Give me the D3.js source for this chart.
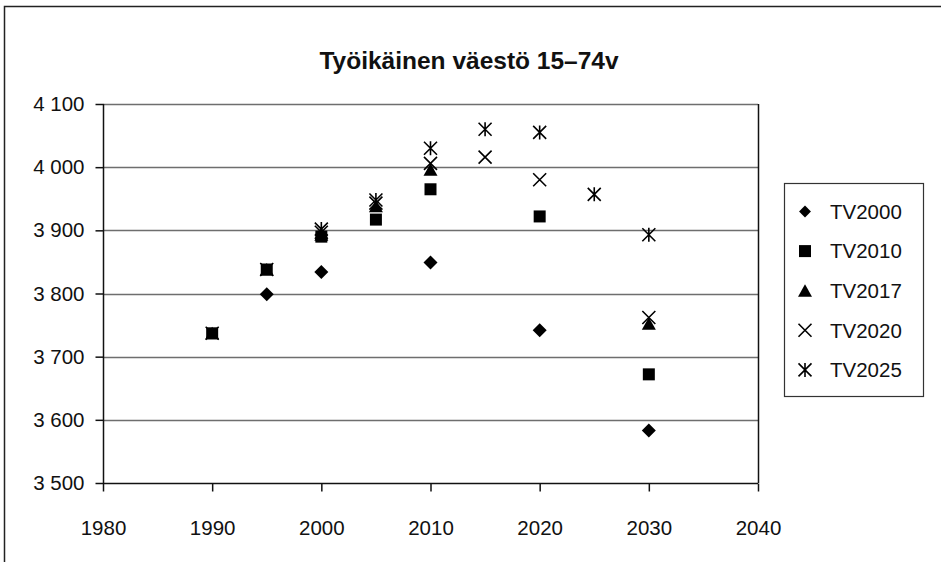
<!DOCTYPE html>
<html lang="fi">
  <head>
    <meta charset="UTF-8" />
    <title>Työikäinen väestö</title>
    <script src="https://cdn.jsdelivr.net/npm/d3@7"></script>
    <style>
      body { margin: 0; background: #fff; }
      text { font-family: "Liberation Sans", Arial, sans-serif; fill: #111; }
    </style>
  </head>
  <body>
    <svg id="chart" width="941" height="562"></svg>
    <script>
      // data (thousands of persons)
      const years = [1990, 1995, 2000, 2005, 2010, 2015, 2020, 2025, 2030];
      const tv2000 = [null, 3799, 3834, null, 3849, null, 3742, null, 3583];
      const tv2010 = [3737, 3838, 3890, 3917, 3965, null, 3922, null, 3672];
      const tv2017 = [3737, 3838, 3893, 3938, 3996, null, null, null, 3752];
      const tv2020 = [3737, 3838, 3897, 3943, 4006, 4016, 3980, null, 3762];
      const tv2025 = [null, null, 3902, 3948, 4030, 4060, 4055, 3957, 3893];
      const seriesNames = ["TV2000", "TV2010", "TV2017", "TV2020", "TV2025"];
      const xTicks = [1980, 1990, 2000, 2010, 2020, 2030, 2040];
      const yTicks = [3500, 3600, 3700, 3800, 3900, 4000, 4100];
      const title = "Työikäinen väestö 15–74v";

      const series = [
        { name: seriesNames[0], values: tv2000, shape: "diamond" },
        { name: seriesNames[1], values: tv2010, shape: "square" },
        { name: seriesNames[2], values: tv2017, shape: "triangle" },
        { name: seriesNames[3], values: tv2020, shape: "x" },
        { name: seriesNames[4], values: tv2025, shape: "star" }
      ];

      // marker paths centred on 0,0
      function marker(shape) {
        const p = d3.path();
        if (shape === "diamond") {
          p.moveTo(0, -7); p.lineTo(7, 0); p.lineTo(0, 7); p.lineTo(-7, 0); p.closePath();
        } else if (shape === "square") {
          p.rect(-6, -6, 12, 12);
        } else if (shape === "triangle") {
          p.moveTo(0, -6.5); p.lineTo(7, 6); p.lineTo(-7, 6); p.closePath();
        } else if (shape === "x") {
          p.moveTo(-6.5, -6.5); p.lineTo(6.5, 6.5); p.moveTo(6.5, -6.5); p.lineTo(-6.5, 6.5);
        } else {
          p.moveTo(-6.5, -6.5); p.lineTo(6.5, 6.5); p.moveTo(6.5, -6.5); p.lineTo(-6.5, 6.5);
          p.moveTo(0, -7); p.lineTo(0, 7);
        }
        return p.toString();
      }
      const filled = s => s === "diamond" || s === "square" || s === "triangle";

      const svg = d3.select("#chart");

      // outer chart border (only top and left are in view)
      svg.append("rect")
        .attr("x", 4.5).attr("y", 6.5)
        .attr("width", 960).attr("height", 600)
        .attr("fill", "none").attr("stroke", "#222").attr("stroke-width", 1.5);

      const x = d3.scaleLinear().domain([1980, 2040]).range([103, 758]);
      const y = d3.scaleLinear().domain([3500, 4100]).range([483, 104]);

      const fmt = d3.formatLocale({ decimal: ",", thousands: " ", grouping: [3], currency: ["", ""] }).format(",");

      // gridlines
      svg.append("g")
        .selectAll("line")
        .data(yTicks.filter(d => d > 3500))
        .join("line")
        .attr("x1", x(1980)).attr("x2", x(2040))
        .attr("y1", d => Math.round(y(d)) + 0.5).attr("y2", d => Math.round(y(d)) + 0.5)
        .attr("stroke", "#6e6e6e").attr("stroke-width", 1.5);

      // right edge of plot area
      svg.append("line")
        .attr("x1", x(2040) + 0.5).attr("x2", x(2040) + 0.5)
        .attr("y1", y(4100)).attr("y2", y(3500))
        .attr("stroke", "#111").attr("stroke-width", 1.5);

      const yAxis = svg.append("g")
        .attr("transform", `translate(${x(1980) + 0.5},0)`)
        .call(d3.axisLeft(y).tickValues(yTicks).tickFormat(fmt).tickSize(8).tickPadding(11));
      const xAxis = svg.append("g")
        .attr("transform", `translate(0,${y(3500) + 0.5})`)
        .call(d3.axisBottom(x).tickValues(xTicks).tickFormat(d3.format("d")).tickSize(8).tickPadding(29));

      [yAxis, xAxis].forEach(g => {
        g.select(".domain").attr("stroke", "#111").attr("stroke-width", 1.5);
        g.selectAll(".tick line").attr("stroke", "#111").attr("stroke-width", 1.5);
        g.selectAll(".tick text")
          .attr("fill", "#111")
          .style("font-family", "'Liberation Sans', Arial, sans-serif")
          .style("font-size", "20.5px");
      });
      xAxis.select(".domain").attr("d", `M${x(1980)},0H${x(2040)}`);
      yAxis.select(".domain").attr("d", `M0,${y(4100)}V${y(3500)}`);

      // points
      series.forEach(s => {
        const pts = years.map((yr, i) => ({ yr, v: s.values[i] })).filter(d => d.v !== null);
        svg.append("g")
          .selectAll("path")
          .data(pts)
          .join("path")
          .attr("transform", d => `translate(${x(d.yr)},${y(d.v)})`)
          .attr("d", marker(s.shape))
          .attr("fill", filled(s.shape) ? "#000" : "none")
          .attr("stroke", "#000")
          .attr("stroke-width", filled(s.shape) ? 0 : 1.6);
      });

      // title
      svg.append("text")
        .attr("x", 469).attr("y", 69)
        .attr("text-anchor", "middle")
        .style("font-size", "24.5px")
        .style("font-weight", "bold")
        .text(title);

      // legend
      const lg = svg.append("g");
      lg.append("rect")
        .attr("x", 784.5).attr("y", 183.5).attr("width", 139).attr("height", 213)
        .attr("fill", "#fff").attr("stroke", "#333").attr("stroke-width", 1.2);
      const rows = lg.selectAll("g.row")
        .data(series)
        .join("g")
        .attr("class", "row")
        .attr("transform", (d, i) => `translate(805,${211.5 + i * 39.6})`);
      rows.append("path")
        .attr("d", d => marker(d.shape))
        .attr("transform", d => d.shape === "diamond" ? "scale(0.85)" : null)
        .attr("fill", d => filled(d.shape) ? "#000" : "none")
        .attr("stroke", "#000")
        .attr("stroke-width", d => filled(d.shape) ? 0 : 1.6);
      rows.append("text")
        .attr("x", 25).attr("dy", "0.36em")
        .style("font-size", "20.5px")
        .text(d => d.name);
    </script>
  </body>
</html>
